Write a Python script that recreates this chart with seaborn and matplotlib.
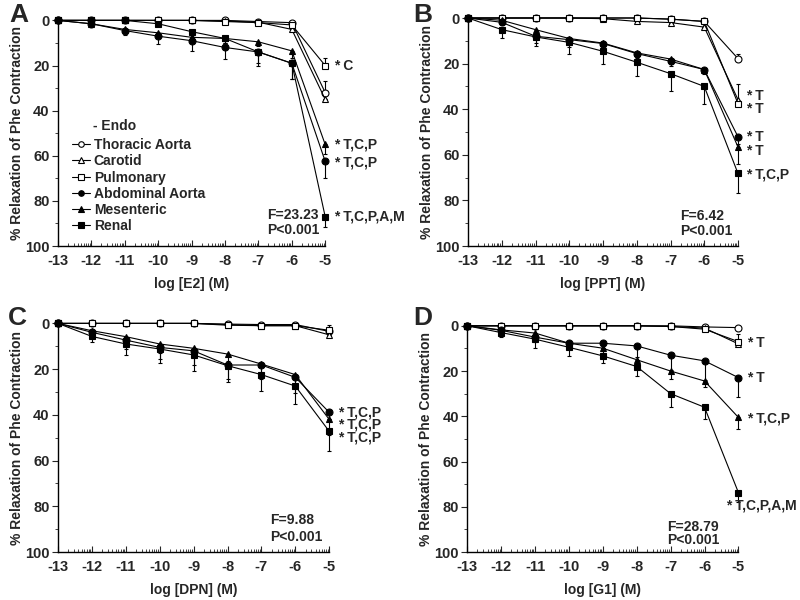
import numpy as np
import matplotlib
matplotlib.use('Agg')
import matplotlib.pyplot as plt
import seaborn as sns
from matplotlib.lines import Line2D
from matplotlib.ticker import FixedLocator, MultipleLocator

# log molar concentration
conc = [-13, -12, -11, -10, -9, -8, -7, -6, -5]
tissues = ['Thoracic Aorta', 'Carotid', 'Pulmonary', 'Abdominal Aorta', 'Mesenteric', 'Renal']

# mean % relaxation, one row per tissue (same order as tissues)
e2_mean = [
    [0, 0, 0, 0, 0, 0, 0.5, 1, 32],
    [0, 0, 0, 0, 0, 0.3, 0.8, 4, 35],
    [0, 0, 0, 0, 0, 0.5, 1, 2, 20],
    [0, 1.5, 4.5, 7, 9, 12, 14, 19, 62.5],
    [0, 1.5, 4, 5.5, 7.5, 8, 9.5, 13.5, 55],
    [0, 0, 0, 1.5, 5, 8, 14, 19, 87],
]
# SEM, positive = bar drawn downward, negative = bar drawn upward
e2_err = [
    [0, 0, 0, 0, 0, 0, 0, 0, -5],
    [0, 0, 0, 0, 0, 0, 0, 0, 0],
    [0, 0, 0, 0, 0, 0, 0, 0, -3.5],
    [0, 1, 2, 3.5, 4.5, 5, 6, 7, 7.5],
    [0, 1, 1.5, 2, 2, 2, 2, 3, 4],
    [0, 0, 0, 1, 1.5, 2, 5, 7, 4.5],
]

ppt_mean = [
    [0, 0, 0, 0, 0, 0, 0.5, 1.5, 17.8],
    [0, 0, 0, 0, 0.3, 1.5, 2, 4, 35.8],
    [0, 0, 0, 0, 0, 0, 0.5, 1.5, 37.5],
    [0, 1.9, 8, 9.5, 11.2, 15.6, 19, 22.6, 52.1],
    [0, 1, 5.1, 9, 11, 15.3, 18, 22.6, 56.6],
    [0, 5.1, 8.3, 10.7, 14.6, 19.4, 24.4, 30, 68.2],
]
ppt_err = [
    [0, 0, 0, 0, 0, 0, 0, 0, -2],
    [0, 0, 0, 0, 0, 0, 0, 0, -7],
    [0, 0, 0, 0, 0, 0, 0, 0, 0],
    [0, 1, 3, 3, 2, 2, 2, 1, 3],
    [0, 1, 2, 2, 2, 2, 2, 2, 7.5],
    [0, 3.5, 4, 5, 5.5, 6, 7.5, 7.5, 8.5],
]

dpn_mean = [
    [0, 0, 0, 0, 0, 0.3, 0.5, 0.5, 3.5],
    [0, 0, 0, 0, 0, 0.5, 1, 1, 5],
    [0, 0, 0, 0, 0, 0.8, 1, 1, 3],
    [0, 3.9, 7.3, 10.5, 12, 18.2, 18.2, 23.6, 38.9],
    [0, 3.2, 5.8, 9, 10.9, 13.4, 17.8, 22.4, 42],
    [0, 5.7, 9, 11.2, 13.8, 18.5, 22.4, 27.4, 47.2],
]
dpn_err = [
    [0, 0, 0, 0, 0, 0, 0, 0, -2],
    [0, 0, 0, 0, 0, 0, 0, 0, 0],
    [0, 0, 0, 0, 0, 0, 0, 0, -2.5],
    [0, 2, 4, 5, 6, 6, 6, 7, 3],
    [0, 2, 3, 4, 4, 3, 4, 5, 7],
    [0, 2.5, 5, 6, 7, 7, 7, 8, 8.5],
]

g1_mean = [
    [0, 0, 0, 0, 0, 0, 0, 0.5, 0.8],
    [0, 0, 0, 0, 0, 0, 0.3, 1, 8],
    [0, 0, 0, 0, 0, 0, 0.3, 1.5, 7],
    [0, 2, 5, 7.7, 7.7, 8.9, 13, 15.5, 22.9],
    [0, 1.8, 3.2, 7.7, 9.9, 15, 20, 24.4, 40.5],
    [0, 3, 5.9, 9.5, 13.3, 18, 30, 36, 73.7],
]
g1_err = [
    [0, 0, 0, 0, 0, 0, 0, 0, 0],
    [0, 0, 0, 0, 0, 0, 0, 0, 0],
    [0, 0, 0, 0, 0, 0, 0, 0, -3.5],
    [0, 1, 2, 2, 2, 5, 6.5, 8.5, 8.4],
    [0, 1, 2, 2, 2, 2, 3.5, 2.8, 5],
    [0, 2, 4, 4, 3.3, 4, 6, 5, 4],
]

# significance notes next to the -5 points
e2_notes = ['* C', '* T,C,P', '* T,C,P', '* T,C,P,A,M']
e2_note_y = [20, 55, 63, 87]
ppt_notes = ['* T', '* T', '* T', '* T', '* T,C,P']
ppt_note_y = [34.3, 40, 52, 58.4, 68.6]
dpn_notes = ['* T,C,P', '* T,C,P', '* T,C,P']
dpn_note_y = [38.9, 44.2, 50]
g1_notes = ['* T', '* T', '* T,C,P', '* T,C,P,A,M']
g1_note_y = [7.7, 23, 41, 79.5]

e2_stat = ['F=23.23', 'P<0.001']
ppt_stat = ['F=6.42', 'P<0.001']
dpn_stat = ['F=9.88', 'P<0.001']
g1_stat = ['F=28.79', 'P<0.001']

sns.set_style('ticks')
plt.rcParams['font.family'] = ['Liberation Sans', 'DejaVu Sans']
plt.rcParams['font.weight'] = 'bold'

markers = ['o', '^', 's', 'o', '^', 's']
faces = ['white', 'white', 'white', 'black', 'black', 'black']

fig = plt.figure(figsize=(8, 6), dpi=100)

panels = [
    ('A', [0.0725, 0.59, 0.334, 0.376], 'log [E2] (M)', e2_mean, e2_err, e2_notes, e2_note_y, e2_stat),
    ('B', [0.585, 0.59, 0.3375, 0.38], 'log [PPT] (M)', ppt_mean, ppt_err, ppt_notes, ppt_note_y, ppt_stat),
    ('C', [0.0725, 0.08, 0.339, 0.381], 'log [DPN] (M)', dpn_mean, dpn_err, dpn_notes, dpn_note_y, dpn_stat),
    ('D', [0.584, 0.08, 0.339, 0.377], 'log [G1] (M)', g1_mean, g1_err, g1_notes, g1_note_y, g1_stat),
]
stat_pos = {'A': (-6.74, 86.4, 93), 'B': (-6.72, 87, 93.4), 'C': (-6.74, 86.2, 93.4), 'D': (-7.1, 89, 94.5)}
label_pos = {'A': (0.012, 0.995), 'B': (0.516, 0.995), 'C': (0.01, 0.49), 'D': (0.516, 0.49)}

minor_x = [d + np.log10(k) for d in range(-13, -5) for k in range(2, 10)]

for name, rect, xlab, means, errs, notes, note_y, stat in panels:
    ax = fig.add_axes(rect)
    for i in range(len(tissues)):
        m = np.array(means[i], dtype=float)
        e = np.array(errs[i], dtype=float)
        lo = np.where(e < 0, -e, 0)
        up = np.where(e > 0, e, 0)
        ax.errorbar(conc, m, yerr=[lo, up], fmt='none', ecolor='black',
                    elinewidth=0.8, capsize=1.5, capthick=0.8, clip_on=False, zorder=2)
        sns.lineplot(x=conc, y=m, ax=ax, color='black', lw=0.8, marker=markers[i],
                     markersize=5, markerfacecolor=faces[i], markeredgecolor='black',
                     markeredgewidth=0.8, clip_on=False, zorder=3)
    ax.set_xlim(-13, -5)
    ax.set_ylim(100, 0)
    ax.set_xticks(conc)
    ax.set_xticklabels([str(c) for c in conc])
    ax.xaxis.set_minor_locator(FixedLocator(minor_x))
    ax.set_yticks([0, 20, 40, 60, 80, 100])
    ax.yaxis.set_minor_locator(MultipleLocator(10))
    ax.tick_params(axis='x', which='major', direction='in', length=4, width=0.8, labelsize=10.5, pad=6)
    ax.tick_params(axis='x', which='minor', direction='in', length=2.5, width=0.6)
    ax.tick_params(axis='y', which='major', direction='out', length=4, width=0.8, labelsize=10.5, pad=2)
    ax.tick_params(axis='y', which='minor', direction='out', length=2.5, width=0.6)
    for s in ['left', 'bottom']:
        ax.spines[s].set_linewidth(1)
        ax.spines[s].set_color('black')
    sns.despine(ax=ax)
    ax.set_xlabel(xlab, fontsize=10, fontweight='bold', labelpad=6)
    ax.set_ylabel('% Relaxation of Phe Contraction', fontsize=10, fontweight='bold', labelpad=1)

    nx = [-5] * len(notes)
    if name == 'D':
        nx[-1] = -5.62
    for x, y, t in zip(nx, note_y, notes):
        ax.annotate(t, xy=(x, y), xytext=(6, 0), textcoords='offset points',
                    va='center', ha='left', fontsize=10, fontweight='bold', annotation_clip=False)
    sx, sy1, sy2 = stat_pos[name]
    ax.text(sx, sy1, stat[0], fontsize=10, fontweight='bold', va='center', ha='left')
    ax.text(sx, sy2, stat[1], fontsize=10, fontweight='bold', va='center', ha='left')

    lx, ly = label_pos[name]
    fig.text(lx, ly, name, fontsize=19, fontweight='bold', va='top', ha='left')

    if name == 'A':
        handles = [Line2D([0], [0], color='black', lw=0.8, marker=markers[i], markersize=4,
                          markerfacecolor=faces[i], markeredgecolor='black', markeredgewidth=0.8)
                   for i in range(len(tissues))]
        ax.text(0.131, 0.53, '- Endo', transform=ax.transAxes, fontsize=10,
                fontweight='bold', va='center', ha='left')
        ax.legend(handles, tissues, loc='upper left', bbox_to_anchor=(0.03, 0.503),
                  frameon=False, handlelength=1.3, handletextpad=0.3, labelspacing=0.16,
                  borderaxespad=0, prop={'size': 10, 'weight': 'bold'})

fig.savefig('out.png', dpi=100)
